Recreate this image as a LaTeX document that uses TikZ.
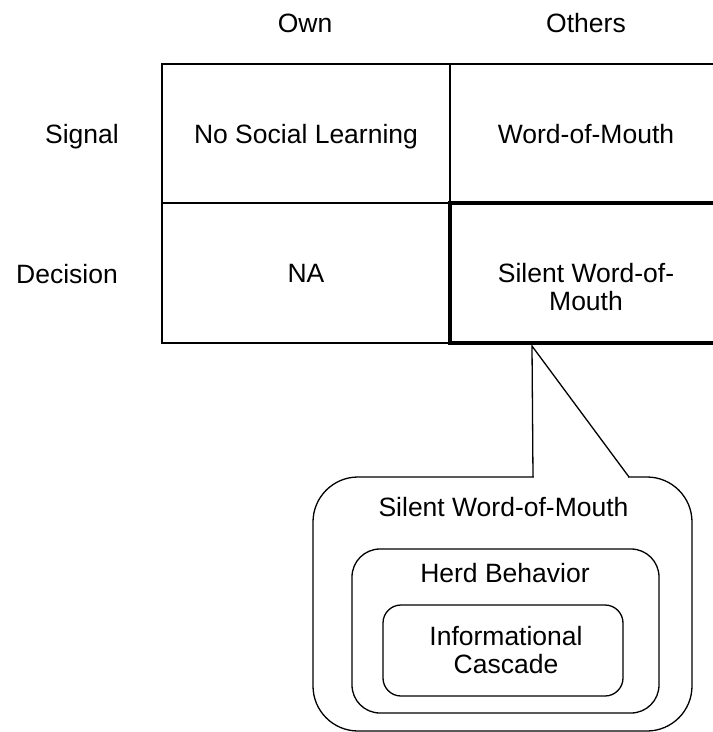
\documentclass[tikz,border=0pt]{standalone}
\usepackage{fontspec}
\setmainfont{Liberation Sans}
\usepackage{tikz}
\usetikzlibrary{positioning}

\tikzset{
  cell/.style={draw, line width=1.6pt, inner sep=0pt, align=center,
    text height=24pt, text depth=5pt, minimum height=140pt},
  bubble/.style={draw, line width=1.3pt, inner sep=0pt},
  caption/.style={anchor=base, align=center, inner sep=0pt}
}

\begin{document}
\begin{tikzpicture}[x=1pt, y=-1pt, node font=\fontsize{26.5}{27.5}\selectfont]
    \useasboundingbox (0,0) rectangle (713,732);
    %
    % column and row headings
    \node[caption] (own) at (305,32) {Own};
    \node[caption] (others) at (586,32) {Others};
    \node[caption, anchor=base east] (signal) at (119,143) {Signal};
    \node[caption, anchor=base east] (decision) at (118,283) {Decision};
    %
    % the table
    \node[cell, minimum width=288pt, minimum height=139pt] (nosocial) at (306,133.5) {No Social Learning};
    \node[cell, minimum width=272pt, minimum height=139pt] (wom) at (586,133.5) {Word-of-Mouth};
    \node[cell, minimum width=288pt] (na) at (306,273) {NA};
    \node[cell, minimum width=272pt, line width=3.4pt, text height=79pt, text depth=5pt] (swom) at (586,273) {Silent Word-of-\\Mouth};
    %
    % the callout
    \node[bubble, minimum width=379pt, minimum height=254pt, rounded corners=45pt] (silentbox) at (502.5,604) {};
    \node[bubble, minimum width=307pt, minimum height=164pt, rounded corners=28pt] (herdbox) at (505.5,631) {};
    \node[bubble, minimum width=240pt, minimum height=91pt, rounded corners=18pt] (cascadebox) at (503,650.5) {};
    \node[caption] (silentlabel) at (503.5,516.5) {Silent Word-of-Mouth};
    \node[caption] (herdlabel) at (505,582) {Herd Behavior};
    \node[caption] (cascadelabel) at (506,673) {Informational\\Cascade};
    %
    \coordinate (tip) at (532,346);
    \coordinate (footL) at (533,477);
    \coordinate (footR) at (629,477);
    \fill[white] (534,474.5) rectangle (628,479.5);
    \draw[line width=1.3pt] (footL) -- (tip) -- (footR);
\end{tikzpicture}
\end{document}
